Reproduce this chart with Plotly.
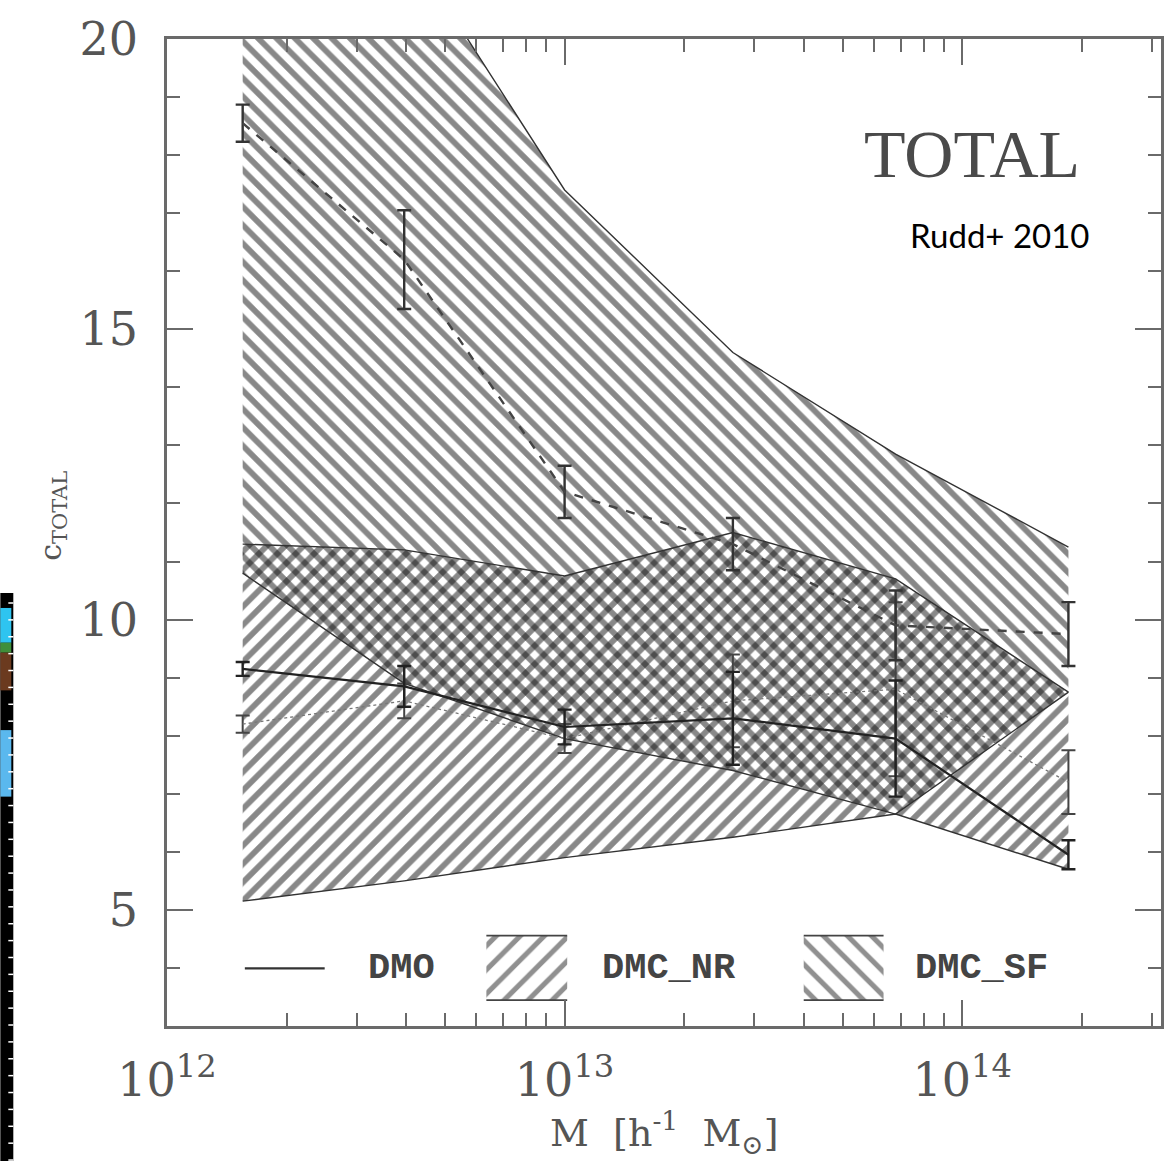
import plotly.graph_objects as go

# ---------------- data ----------------
mass = [1.55e12, 3.95e12, 1.0e13, 2.65e13, 6.8e13, 1.85e14]

# DMC_SF band (descending hatch)
sf_upper = [25.0, 21.7, 17.4, 14.6, 12.85, 11.25]
sf_lower = [10.8, 8.9, 7.95, 7.4, 6.65, 8.75]
# DMC_NR band (ascending hatch)
nr_upper = [11.3, 11.2, 10.75, 11.5, 10.7, 8.75]
nr_lower = [5.15, 5.5, 5.9, 6.25, 6.65, 5.7]

# mean concentration curves with errors
sf_c = [18.55, 16.2, 12.2, 11.3, 9.9, 9.75]
sf_err = [0.32, 0.85, 0.45, 0.45, 0.6, 0.55]
nr_c = [8.2, 8.6, 7.95, 8.6, 8.8, 7.2]
nr_err = [0.15, 0.3, 0.25, 0.8, 1.5, 0.55]
dmo_c = [9.15, 8.85, 8.15, 8.3, 7.95, 5.95]
dmo_err = [0.12, 0.35, 0.3, 0.8, 1.0, 0.25]

y_ticks = [5, 10, 15, 20]
x_ticks = [1e12, 1e13, 1e14]
x_ticktext = ["10<sup>12</sup>", "10<sup>13</sup>", "10<sup>14</sup>"]

# ---------------- layout constants ----------------
W, H = 1176, 1162
L, R, T, B = 167, 1163, 32, 1026
INK = "#111111"
AX = "#6a6a6a"

def px(xp):
    return (xp - L) / (R - L)

def py(yp):
    return (B - yp) / (B - T)

fig = go.Figure()

hatch = dict(size=13, solidity=0.45, fgcolor=INK, bgcolor="rgba(0,0,0,0)", fillmode="overlay")

# bands
fig.add_trace(go.Scatter(
    x=mass + mass[::-1], y=sf_upper + sf_lower[::-1], mode="lines",
    fill="toself", fillcolor="rgba(0,0,0,0)", line=dict(width=0),
    fillpattern=dict(shape="\\", **hatch), showlegend=False, hoverinfo="skip"))
fig.add_trace(go.Scatter(
    x=mass + mass[::-1], y=nr_upper + nr_lower[::-1], mode="lines",
    fill="toself", fillcolor="rgba(0,0,0,0)", line=dict(width=0),
    fillpattern=dict(shape="/", **hatch), showlegend=False, hoverinfo="skip"))

for edge in (sf_upper, sf_lower, nr_upper, nr_lower):
    fig.add_trace(go.Scatter(x=mass, y=edge, mode="lines",
                             line=dict(color="#333333", width=1.4),
                             showlegend=False, hoverinfo="skip"))

# mean curves
fig.add_trace(go.Scatter(
    x=mass, y=nr_c, mode="lines", line=dict(color="#777777", width=1.3, dash="dot"),
    error_y=dict(type="data", array=nr_err, width=7, thickness=2, color="#444444"),
    showlegend=False))
fig.add_trace(go.Scatter(
    x=mass, y=sf_c, mode="lines", line=dict(color="#444444", width=2.4, dash="dash"),
    error_y=dict(type="data", array=sf_err, width=7, thickness=2.4, color="#333333"),
    showlegend=False))
fig.add_trace(go.Scatter(
    x=mass, y=dmo_c, mode="lines", line=dict(color="#222222", width=2.2),
    error_y=dict(type="data", array=dmo_err, width=7, thickness=2.4, color="#222222"),
    showlegend=False))

# ---------------- custom legend on an overlay axis (0..1 box) ----------------
ly0, ly1 = py(1000), py(935)
fig.add_trace(go.Scatter(x=[px(245), px(325)], y=[py(968), py(968)], mode="lines",
                         line=dict(color="#333333", width=2.4),
                         xaxis="x2", yaxis="y2", showlegend=False, hoverinfo="skip"))
for (x0, x1, shp) in ((px(487), px(568), "/"), (px(805), px(885), "\\")):
    fig.add_trace(go.Scatter(
        x=[x0, x1, x1, x0, x0], y=[ly0, ly0, ly1, ly1, ly0], mode="lines",
        fill="toself", fillcolor="rgba(0,0,0,0)", line=dict(width=0),
        fillpattern=dict(shape=shp, size=17, solidity=0.3, fgcolor="#222222",
                         bgcolor="rgba(0,0,0,0)", fillmode="overlay"),
        xaxis="x2", yaxis="y2", showlegend=False, hoverinfo="skip"))
    fig.add_trace(go.Scatter(
        x=[x0, x1, None, x0, x1], y=[ly0, ly0, None, ly1, ly1], mode="lines",
        line=dict(color="#444444", width=1.8),
        xaxis="x2", yaxis="y2", showlegend=False, hoverinfo="skip"))

legend_font = dict(family="Liberation Mono", size=37, color="#444444")
annotations = [
    dict(x=px(402), y=py(968), text="<b>DMO</b>", font=legend_font),
    dict(x=px(670), y=py(968), text="<b>DMC_NR</b>", font=legend_font),
    dict(x=px(983), y=py(968), text="<b>DMC_SF</b>", font=legend_font),
    dict(x=px(1084), y=py(148), text="TOTAL", xanchor="right",
         font=dict(family="Liberation Serif", size=68, color="#4a4a4a")),
    dict(x=px(1094), y=py(229), text="Rudd+ 2010", xanchor="right",
         font=dict(family="Lato", size=33, color="#000000")),
    dict(x=px(665), y=py(1133), text="M  [h<sup>-1</sup>  M<sub>⊙</sub>]",
         font=dict(family="DejaVu Serif", size=38, color="#555555")),
    dict(x=px(52), y=py(512), text="c<sub>TOTAL</sub>", textangle=-90,
         font=dict(family="DejaVu Serif", size=30, color="#555555")),
]
for a in annotations:
    a.update(xref="paper", yref="paper", showarrow=False)
    a.setdefault("xanchor", "center")
    a.setdefault("yanchor", "middle")

# stray colour-bar strip from a neighbouring panel at the far left
shapes = [dict(type="rect", xref="paper", yref="paper", x0=px(0), x1=px(13),
               y0=py(1162), y1=py(590), fillcolor="#000000", line=dict(width=0))]
for (c, a, b) in (("#2ec4f0", 605, 640), ("#3f8f3a", 640, 650), ("#6b3a1f", 650, 688),
                  ("#5ab8ee", 728, 795)):
    shapes.append(dict(type="rect", xref="paper", yref="paper", x0=px(0), x1=px(11),
                       y0=py(b), y1=py(a), fillcolor=c, line=dict(width=0)))
for k in range(34):
    yy = 600 + 17 * k
    shapes.append(dict(type="line", xref="paper", yref="paper", x0=px(8), x1=px(13),
                       y0=py(yy), y1=py(yy), line=dict(color="white", width=1.5)))

axis_common = dict(showline=True, linecolor=AX, linewidth=2.5, mirror="allticks",
                   ticks="inside", ticklen=26, tickwidth=2, tickcolor=AX,
                   showgrid=False, zeroline=False,
                   tickfont=dict(family="DejaVu Serif", size=46, color="#555555"))

fig.update_layout(
    width=W, height=H,
    margin=dict(l=L, r=W - R, t=T, b=H - B),
    paper_bgcolor="white", plot_bgcolor="white",
    xaxis=dict(type="log", range=[12, 14.5], tickvals=x_ticks, ticktext=x_ticktext,
               ticklabelstandoff=12,
               minor=dict(ticks="inside", ticklen=13, tickwidth=2, tickcolor=AX,
                          dtick="D1", showgrid=False),
               **axis_common),
    yaxis=dict(range=[3, 20], tickvals=y_ticks, ticklabelstandoff=17,
               minor=dict(ticks="inside", ticklen=13, tickwidth=2, tickcolor=AX,
                          dtick=1, showgrid=False),
               **axis_common),
    xaxis2=dict(overlaying="x", range=[0, 1], visible=False, anchor="y2"),
    yaxis2=dict(overlaying="y", range=[0, 1], visible=False, anchor="x2"),
    annotations=annotations,
    shapes=shapes,
    showlegend=False,
)

fig.write_html("out.html")
